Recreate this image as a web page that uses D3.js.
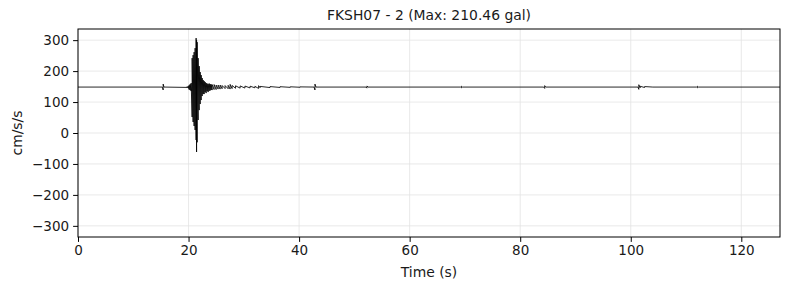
<!DOCTYPE html>
<html>
<head>
<meta charset="utf-8">
<script src="https://cdn.jsdelivr.net/npm/d3@7"></script>
<style>
  body { margin: 0; background: #fff; }
  text { font-family: "DejaVu Sans", sans-serif; fill: #1a1a1a; }
</style>
</head>
<body>
<div id="plot"></div>
<script>
// envelope of the trace (time in s, upper / lower in cm/s/s)
var traceTime = [0, 15.25, 15.41, 15.55, 19.75, 19.93, 20.11, 20.29, 20.47, 20.65, 20.83, 21.01, 21.19, 21.37, 21.45, 21.55,
    21.73, 21.92, 22.10, 22.28, 22.46, 22.64, 22.82, 23.00, 23.18, 23.36, 23.54, 23.72, 23.90, 24.08, 24.26, 24.62,
    24.99, 25.35, 25.71, 26.07, 26.61, 27.16, 27.52, 27.88, 28.5, 29.33, 30.2, 31.13, 32.0, 32.67, 32.94, 34.74,
    36.55, 38.4, 40.16, 42.7, 42.87, 43.05, 52.1, 52.27, 52.45, 69.2, 69.38, 69.55, 84.25, 84.43, 84.6, 101.3,
    101.46, 101.7, 102.5, 104.0, 111.9, 112.07, 112.25, 127];
var traceUpper = [148.4, 148.4, 158, 148.4, 149.5, 151.6, 154.8, 158, 161.3, 241.9, 251.6, 261.3, 274.2, 306.5, 300, 293.5,
    241.9, 216, 196.8, 187, 177.4, 171, 167.7, 164.5, 161.3, 159.7, 158, 160, 158, 157, 156.5, 156.5,
    154.8, 154.8, 154.8, 153.5, 153.2, 154, 157, 153.5, 152.5, 152, 151.6, 151.2, 150.8, 153, 150.5, 150,
    149.6, 149.3, 149, 148.4, 158, 148.4, 148.4, 152, 148.4, 148.4, 151, 148.4, 148.4, 153, 148.4, 148.4,
    156, 151, 150, 148.4, 148.4, 151, 148.4, 148.4];
var traceLower = [148.4, 148.4, 139, 148.4, 147.3, 145.2, 140.3, 138.7, 135.5, 51.6, 35.5, 22.6, 9.7, -22.6, -61.3, -30,
    41.9, 74, 93.5, 106.5, 119.4, 125.8, 125.8, 132.3, 129, 135.5, 132.3, 136, 137.1, 139, 138.7, 140.3,
    140.3, 141.9, 141.9, 143, 143.5, 143, 142, 143.5, 144.5, 145, 145.2, 145.6, 146, 144, 146.3, 146.8,
    147.2, 147.5, 147.8, 148.4, 139, 148.4, 148.4, 145, 148.4, 148.4, 146, 148.4, 148.4, 144, 148.4, 148.4,
    141, 146, 147, 148.4, 148.4, 146, 148.4, 148.4];

var xTicks = [0, 20, 40, 60, 80, 100, 120];
var yTicks = [-300, -200, -100, 0, 100, 200, 300];
var titleText = "FKSH07 - 2 (Max: 210.46 gal)";

var width = 790, height = 290;
var margin = {left: 78, right: 10, top: 29, bottom: 53};

var svg = d3.select("#plot").append("svg")
    .attr("width", width)
    .attr("height", height);

var xScale = d3.scaleLinear().domain([0, 127]).range([margin.left, width - margin.right]);
var yScale = d3.scaleLinear().domain([-336, 336]).range([height - margin.bottom, margin.top]);

// grid
svg.append("g").selectAll("line").data(xTicks).enter().append("line")
    .attr("x1", d => xScale(d)).attr("x2", d => xScale(d))
    .attr("y1", margin.top).attr("y2", height - margin.bottom)
    .attr("stroke", "#e3e3e3").attr("stroke-width", 0.8);
svg.append("g").selectAll("line").data(yTicks).enter().append("line")
    .attr("y1", d => yScale(d)).attr("y2", d => yScale(d))
    .attr("x1", margin.left).attr("x2", width - margin.right)
    .attr("stroke", "#e3e3e3").attr("stroke-width", 0.8);

// trace: each sample drawn from its lower to its upper value
var pts = [];
for (let i = 0; i < traceTime.length; i++) {
    pts.push([traceTime[i], traceLower[i]]);
    pts.push([traceTime[i], traceUpper[i]]);
}
var line = d3.line().x(d => xScale(d[0])).y(d => yScale(d[1]));
svg.append("path")
    .attr("d", line(pts))
    .attr("fill", "none")
    .attr("stroke", "#000")
    .attr("stroke-width", 0.85);

// axes
var fmt = d => d < 0 ? "\u2212" + Math.abs(d) : String(d);
var xAxis = d3.axisBottom(xScale).tickValues(xTicks).tickSize(4.9).tickPadding(4).tickFormat(fmt);
var yAxis = d3.axisLeft(yScale).tickValues(yTicks).tickSize(4.9).tickPadding(4).tickFormat(fmt);

var gx = svg.append("g")
    .attr("transform", "translate(0," + (height - margin.bottom) + ")")
    .call(xAxis);
var gy = svg.append("g")
    .attr("transform", "translate(" + margin.left + ",0)")
    .call(yAxis);
[gx, gy].forEach(function(g) {
    g.select(".domain").remove();
    g.selectAll("line").attr("stroke", "#000").attr("stroke-width", 1);
    g.selectAll("text").style("font-size", "13.5px").style("font-family", "DejaVu Sans").attr("fill", "#1a1a1a");
});

// frame
svg.append("rect")
    .attr("x", margin.left).attr("y", margin.top)
    .attr("width", width - margin.right - margin.left)
    .attr("height", height - margin.bottom - margin.top)
    .attr("fill", "none").attr("stroke", "#000").attr("stroke-width", 1);

svg.append("text")
    .attr("x", (margin.left + width - margin.right) / 2).attr("y", 20)
    .attr("text-anchor", "middle").style("font-size", "13.9px")
    .text(titleText);

svg.append("text")
    .attr("x", (margin.left + width - margin.right) / 2).attr("y", 277)
    .attr("text-anchor", "middle").style("font-size", "13.9px")
    .text("Time (s)");

svg.append("text")
    .attr("transform", "translate(22," + yScale(0) + ") rotate(-90)")
    .attr("text-anchor", "middle").style("font-size", "13.9px")
    .text("cm/s/s");
</script>
</body>
</html>
